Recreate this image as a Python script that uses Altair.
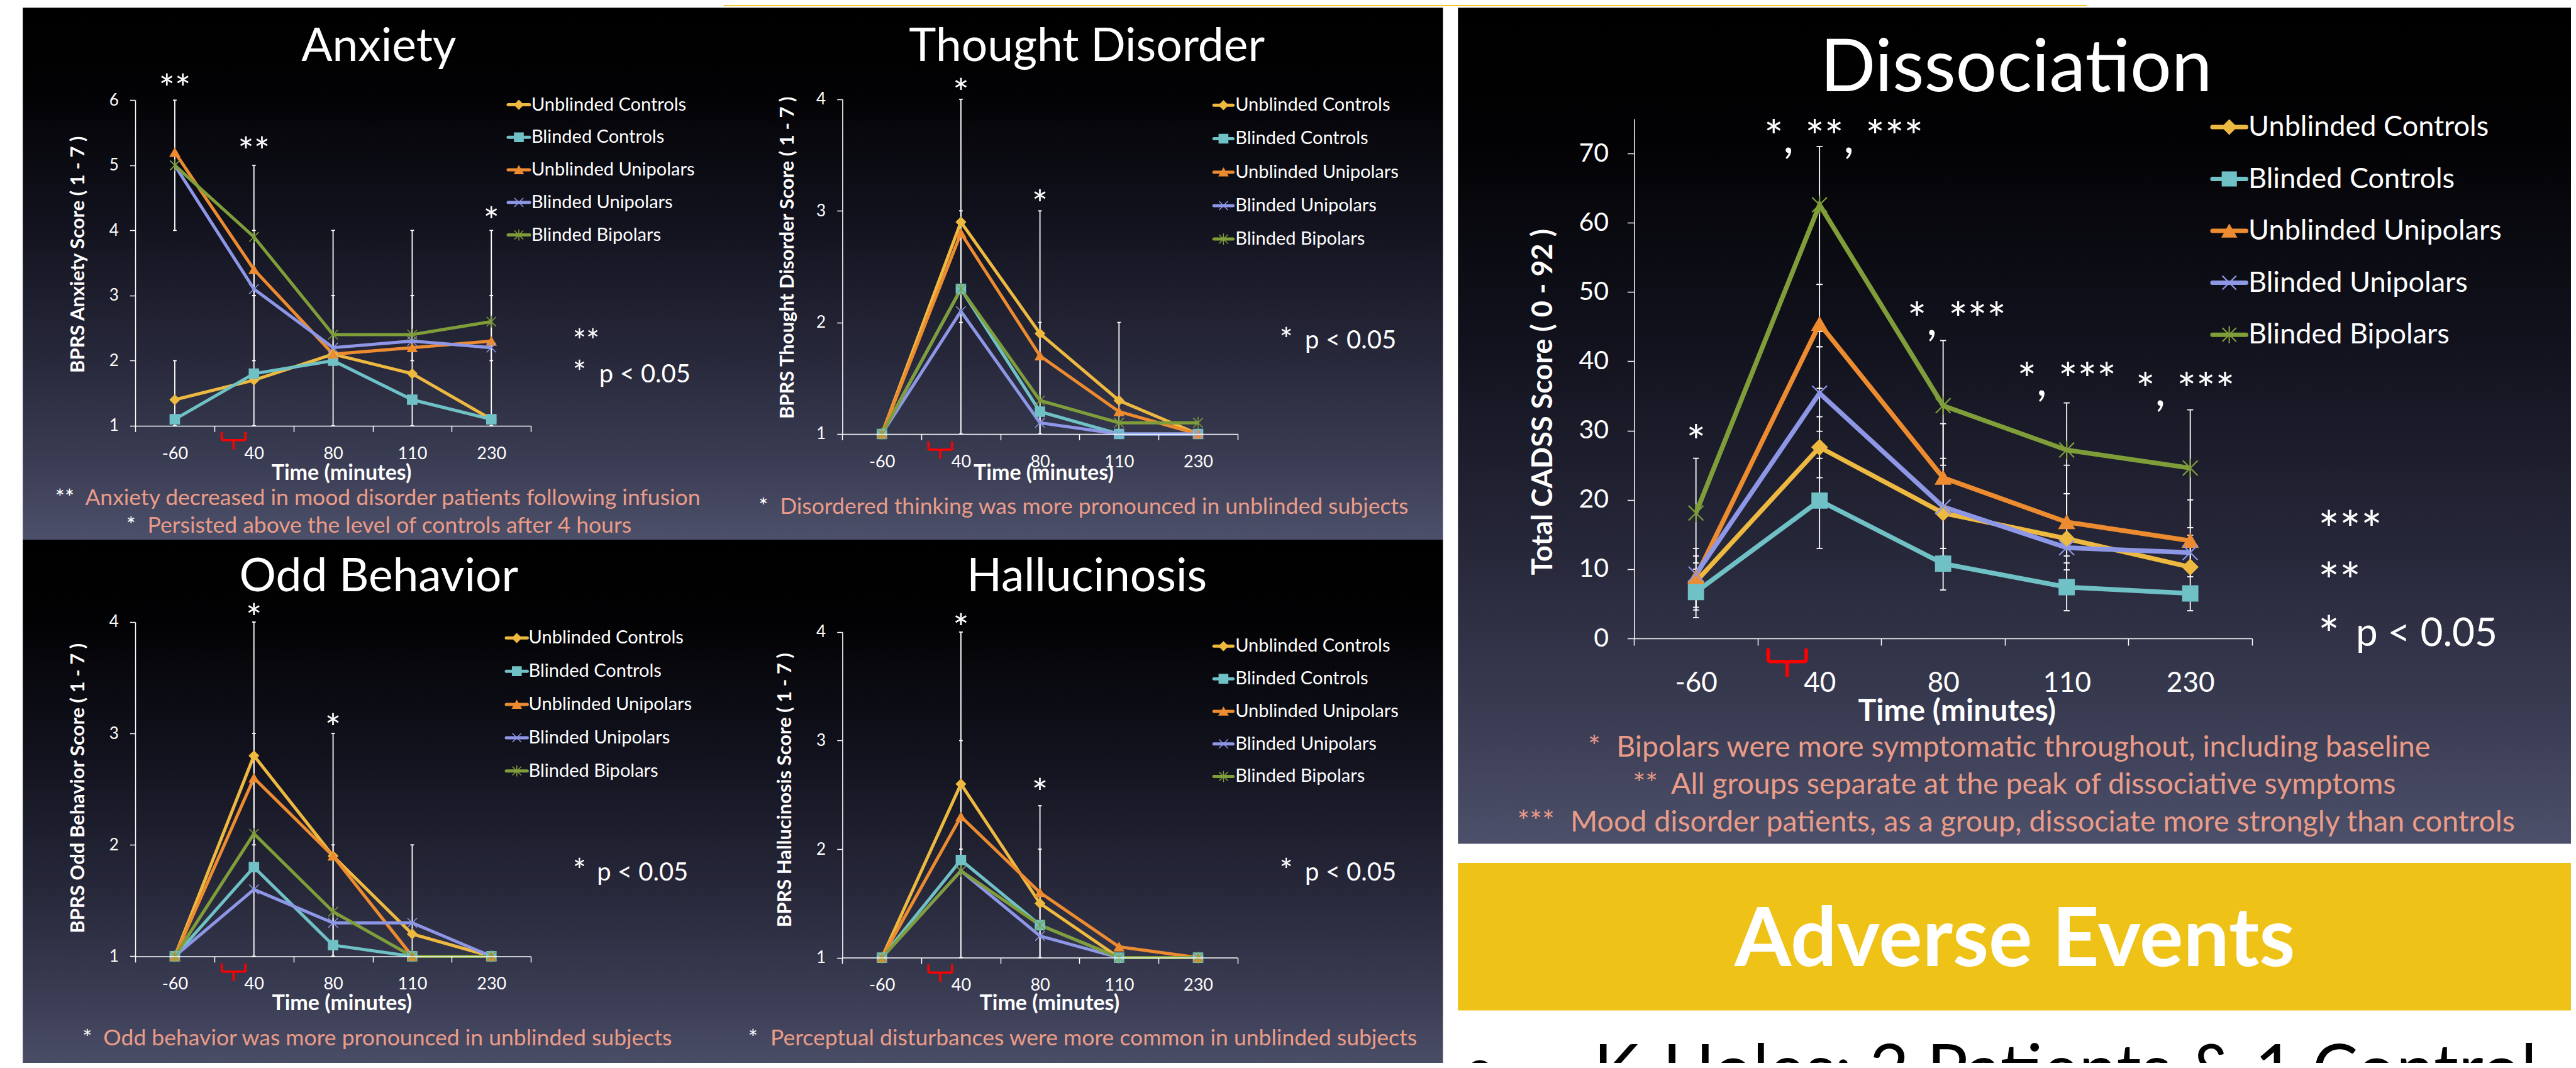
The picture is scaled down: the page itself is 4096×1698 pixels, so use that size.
import altair as alt
import pandas as pd

# ---------------- data ----------------
times = ["-60", "40", "80", "110", "230"]
series = ["Unblinded Controls", "Blinded Controls", "Unblinded Unipolars",
          "Blinded Unipolars", "Blinded Bipolars"]

anxiety = {
    "Unblinded Controls": [1.4, 1.7, 2.1, 1.8, 1.1],
    "Blinded Controls": [1.1, 1.8, 2.0, 1.4, 1.1],
    "Unblinded Unipolars": [5.2, 3.4, 2.1, 2.2, 2.3],
    "Blinded Unipolars": [5.0, 3.1, 2.2, 2.3, 2.2],
    "Blinded Bipolars": [5.0, 3.9, 2.4, 2.4, 2.6],
}
thought = {
    "Unblinded Controls": [1.0, 2.9, 1.9, 1.3, 1.0],
    "Blinded Controls": [1.0, 2.3, 1.2, 1.0, 1.0],
    "Unblinded Unipolars": [1.0, 2.8, 1.7, 1.2, 1.0],
    "Blinded Unipolars": [1.0, 2.1, 1.1, 1.0, 1.0],
    "Blinded Bipolars": [1.0, 2.3, 1.3, 1.1, 1.1],
}
odd = {
    "Unblinded Controls": [1.0, 2.8, 1.9, 1.2, 1.0],
    "Blinded Controls": [1.0, 1.8, 1.1, 1.0, 1.0],
    "Unblinded Unipolars": [1.0, 2.6, 1.9, 1.0, 1.0],
    "Blinded Unipolars": [1.0, 1.6, 1.3, 1.3, 1.0],
    "Blinded Bipolars": [1.0, 2.1, 1.4, 1.0, 1.0],
}
halluc = {
    "Unblinded Controls": [1.0, 2.6, 1.5, 1.0, 1.0],
    "Blinded Controls": [1.0, 1.9, 1.3, 1.0, 1.0],
    "Unblinded Unipolars": [1.0, 2.3, 1.6, 1.1, 1.0],
    "Blinded Unipolars": [1.0, 1.8, 1.2, 1.0, 1.0],
    "Blinded Bipolars": [1.0, 1.8, 1.3, 1.0, 1.0],
}
dissoc = {
    "Unblinded Controls": [8.2, 27.6, 18.1, 14.4, 10.3],
    "Blinded Controls": [6.7, 19.9, 10.8, 7.4, 6.5],
    "Unblinded Unipolars": [8.9, 45.4, 23.2, 16.8, 14.1],
    "Blinded Unipolars": [9.3, 35.4, 19.0, 13.1, 12.4],
    "Blinded Bipolars": [18.1, 62.6, 33.6, 27.2, 24.6],
}

# error bars: (time, low, high)
anxiety_err = [("-60", 4, 6), ("-60", 1, 2), ("40", 3, 5), ("40", 2, 4), ("40", 1, 3),
               ("80", 2, 4), ("80", 1, 3), ("110", 2, 4), ("110", 1, 3),
               ("230", 2, 4), ("230", 1, 3)]
thought_err = [("40", 2, 4), ("40", 1, 3), ("80", 1, 3), ("80", 1, 2), ("110", 1, 2)]
odd_err = [("40", 2, 4), ("40", 1, 3), ("80", 1, 3), ("80", 1, 2), ("110", 1, 2)]
halluc_err = [("40", 2, 4), ("40", 1, 3), ("80", 1, 2.4), ("80", 1, 2)]
dissoc_err = [("-60", 10.9, 26.0), ("-60", 4.5, 13.0), ("-60", 3.0, 11.9), ("-60", 4.1, 10.0),
              ("40", 13.0, 26.0), ("40", 23.2, 32.0), ("40", 29.9, 42.1), ("40", 36.1, 44.3),
              ("40", 42.1, 51.1), ("40", 51.1, 71.0),
              ("80", 25.0, 43.0), ("80", 13.0, 31.0), ("80", 11.9, 26.0), ("80", 7.0, 13.0),
              ("110", 20.9, 34.0), ("110", 11.9, 25.0), ("110", 9.9, 20.9), ("110", 4.0, 10.9),
              ("230", 16.0, 33.0), ("230", 8.9, 20.0), ("230", 4.0, 14.9)]

# significance marks: (time, value at the marks' centre, text)
anxiety_stars = [("-60", 6.30, "**"), ("40", 5.34, "**"), ("230", 4.27, "*")]
thought_stars = [("40", 4.13, "*"), ("80", 3.13, "*")]
odd_stars = [("40", 4.11, "*"), ("80", 3.12, "*")]
halluc_stars = [("40", 4.11, "*"), ("80", 2.59, "*")]
dissoc_stars = [("-60", 29.8, "*"), ("40", 73.8, "*, **, ***"), ("80", 47.5, "*, ***"),
                ("110", 38.8, "*, ***"), ("230", 37.3, "*, ***")]

# ---------------- layout / style ----------------
K = 0.724
W, H = 4080, 1682


def P(v):
    return round(v * K - 8, 2)


def S(v):
    return round(v * K, 2)


FONT = "Lato"
SALMON = "#EA9C88"
YELLOW = "#EFC217"
colors = ["#EDB940", "#6FC1C6", "#EC8B30", "#8D97E6", "#7F9E3A"]
fills = ["#EDB940", "#6FC1C6", "#EC8B30", "transparent", "transparent"]
X_PATH = "M-1,-1L1,1M-1,1L1,-1"
AST_PATH = "M-1,-1L1,1M-1,1L1,-1M0,-1.25L0,1.25"
shapes = ["diamond", "square", "triangle-up", X_PATH, AST_PATH]
BRACE = ("M-0.93,-0.69L-0.93,-0.15Q-0.93,-0.05 -0.8,-0.05L-0.12,-0.05Q0,-0.05 0,0.1L0,0.69"
         "M0,0.1Q0,-0.05 0.12,-0.05L0.8,-0.05Q0.93,-0.05 0.93,-0.15L0.93,-0.69")

color_scale = alt.Scale(domain=series, range=colors)
fill_scale = alt.Scale(domain=series, range=fills)
shape_scale = alt.Scale(domain=series, range=shapes)

ONE = pd.DataFrame({"k": [0]})

grad = alt.LinearGradient(
    gradient="linear",
    stops=[alt.GradientStop(offset=0, color="#000000"),
           alt.GradientStop(offset=0.15, color="#020204"),
           alt.GradientStop(offset=0.4, color="#12121e"),
           alt.GradientStop(offset=0.65, color="#262739"),
           alt.GradientStop(offset=0.85, color="#3a3c53"),
           alt.GradientStop(offset=1, color="#4d506a")],
    x1=0, x2=0, y1=0, y2=1)


def R(x0, y0, x1, y1, fill):
    return alt.Chart(ONE).mark_rect(fill=fill, strokeWidth=0).encode(
        x=alt.value(P(x0)), x2=alt.value(P(x1)), y=alt.value(P(y0)), y2=alt.value(P(y1)))


def T(s, x, y, fs, color="white", weight="normal", align="center", baseline="middle",
      angle=0, dy=0):
    return alt.Chart(ONE).mark_text(
        text=s, font=FONT, fontSize=fs, color=color, fontWeight=weight, align=align,
        baseline=baseline, angle=angle, dy=dy).encode(x=alt.value(P(x)), y=alt.value(P(y)))


def STAR(s, x, yc, fs, align="left"):
    # asterisks: place so that their visual centre sits at yc
    return T(s, x, yc, fs, align=align, baseline="alphabetic", dy=round(0.57 * fs, 1))


def brace(cx, cy, width_ref, sw):
    w = S(width_ref)
    return alt.Chart(ONE).mark_point(shape=BRACE, filled=False, color="#FF0000", opacity=1,
                                     strokeWidth=sw, size=round(w * w)).encode(
        x=alt.value(P(cx)), y=alt.value(P(cy)))


def long_df(d):
    rows = []
    for s in series:
        for i, t in enumerate(times):
            rows.append({"series": s, "time": t, "ti": i, "value": d[s][i]})
    return pd.DataFrame(rows)


def panel(d, errs, stars, x0, x1, ylo, yhi, domain, ticks, o, star_dx=None):
    xs = alt.Scale(type="band", domain=times, range=[P(x0), P(x1)], paddingInner=0,
                   paddingOuter=0)
    ys = alt.Scale(domain=domain, range=[P(ylo), P(yhi)], nice=False, zero=False)
    xaxis = alt.Axis(orient="bottom", offset=round(P(ylo) - H, 2), title=None, labelFont=FONT,
                     labelFontSize=o["xl"], labelColor="white", labelAngle=0,
                     labelBaseline="middle", labelPadding=o["xlp"], tickSize=o["xts"],
                     tickBand="extent", tickColor="white", domainColor="white",
                     tickWidth=1.5, domainWidth=1.5, grid=False, zindex=1)
    yaxis = alt.Axis(orient="left", offset=-P(x0), title=None, values=ticks, labelFont=FONT,
                     labelFontSize=o["yl"], labelColor="white", labelPadding=o["ylp"],
                     tickSize=o["yts"], tickColor="white", domainColor="white",
                     tickWidth=1.5, domainWidth=1.5, grid=False, zindex=1)
    df = long_df(d)
    edf = pd.DataFrame(errs, columns=["time", "lo", "hi"])
    cdf = edf.melt(id_vars=["time"], value_vars=["lo", "hi"], value_name="v")
    # every layer carries the same axis definition so that the merged axis stays enabled
    xn = alt.X("time:N", scale=xs, axis=xaxis)

    def yq(f):
        return alt.Y(f, scale=ys, axis=yaxis)

    rules = alt.Chart(edf).mark_rule(color="white", strokeWidth=o["ew"]).encode(
        x=xn, y=yq("lo:Q"), y2="hi:Q")
    caps = alt.Chart(cdf).mark_point(shape="M-1,0L1,0", filled=False, color="white",
                                     opacity=1, strokeWidth=o["ew"], size=o["cap"]).encode(
        x=xn, y=yq("v:Q"))
    lines = alt.Chart(df).mark_line(strokeWidth=o["lw"]).encode(
        x=xn, y=yq("value:Q"),
        color=alt.Color("series:N", scale=color_scale, legend=None),
        order="ti:Q")
    pts = alt.Chart(df).mark_point(filled=False, opacity=1, strokeWidth=o["mw"],
                                   size=o["ms"]).encode(
        x=xn, y=yq("value:Q"),
        shape=alt.Shape("series:N", scale=shape_scale, legend=None),
        fill=alt.Fill("series:N", scale=fill_scale, legend=None),
        stroke=alt.Stroke("series:N", scale=color_scale, legend=None))
    parts = [rules, caps, lines, pts]
    for i, (t, v, s) in enumerate(stars):
        dx = S(star_dx[i]) if star_dx else 0
        sdf = pd.DataFrame({"time": [t], "value": [v]})
        parts.append(alt.Chart(sdf).mark_text(
            text=s, font=FONT, fontSize=o["sf"], color="white", baseline="alphabetic",
            dy=round(0.57 * o["sf"], 1), dx=dx).encode(x=xn, y=yq("value:Q")))
    return alt.layer(*parts)


def legend(xl0, xl1, xt, y0, y1, fs, lw, ms, mw):
    ldf = pd.DataFrame({"series": series})
    ys = alt.Scale(type="point", domain=series, range=[P(y0), P(y1)], padding=0)
    y = alt.Y("series:N", scale=ys, axis=None)
    rule = alt.Chart(ldf).mark_rule(strokeWidth=lw, strokeCap="round").encode(
        x=alt.value(P(xl0)), x2=alt.value(P(xl1)), y=y,
        color=alt.Color("series:N", scale=color_scale, legend=None))
    pts = alt.Chart(ldf).mark_point(filled=False, opacity=1, strokeWidth=mw, size=ms).encode(
        x=alt.value(P((xl0 + xl1) / 2)), y=y,
        shape=alt.Shape("series:N", scale=shape_scale, legend=None),
        fill=alt.Fill("series:N", scale=fill_scale, legend=None),
        stroke=alt.Stroke("series:N", scale=color_scale, legend=None))
    txt = alt.Chart(ldf).mark_text(align="left", baseline="middle", fontSize=fs, font=FONT,
                                   color="white").encode(
        x=alt.value(P(xt)), y=y, text="series:N")
    return alt.layer(rule, pts, txt)


small = dict(xl=27, xlp=35, xts=9.4, yl=26, ylp=18, yts=8.7, ew=1.8, cap=34, lw=5,
             mw=1.5, ms=230, sf=60)
big = dict(xl=44, xlp=60, xts=11, yl=41, ylp=30, yts=11, ew=1.8, cap=90, lw=7.5,
           mw=2.2, ms=560, sf=72)

layers = [
    R(1589, 0, 4583, 13, YELLOW),
    R(50, 17, 3169, 1185, grad),
    R(50, 1185, 3169, 2360, grad),
    R(3202, 17, 5670, 1853, grad),
    R(3202, 1895, 5670, 2219, YELLOW),
    # panel titles
    T("Anxiety", 832, 134, S(101), baseline="alphabetic"),
    T("Thought Disorder", 2387, 134, S(101), baseline="alphabetic"),
    T("Odd Behavior", 832, 1299, S(101), baseline="alphabetic"),
    T("Hallucinosis", 2387, 1299, S(101), baseline="alphabetic"),
    T("Dissociation", 4428, 200, 116, baseline="alphabetic"),
    # panels
    panel(anxiety, anxiety_err, anxiety_stars, 297, 1166, 935, 220, [1, 6],
          [1, 2, 3, 4, 5, 6], small),
    panel(thought, thought_err, thought_stars, 1850, 2718, 953, 218, [1, 4],
          [1, 2, 3, 4], small),
    panel(odd, odd_err, odd_stars, 297, 1166, 2100, 1366, [1, 4], [1, 2, 3, 4], small),
    panel(halluc, halluc_err, halluc_stars, 1850, 2718, 2103, 1388, [1, 4],
          [1, 2, 3, 4], small),
    panel(dissoc, dissoc_err, dissoc_stars, 3589, 4946, 1402, 261, [0, 75],
          [0, 10, 20, 30, 40, 50, 60, 70], big, star_dx=[0, 53, 30, 0, -11]),
    # legends
    legend(1116, 1163, 1167, 230, 516, 29, 5, 200, 1.5),
    legend(2666, 2708, 2713, 231, 525, 29, 5, 200, 1.5),
    legend(1112, 1158, 1161, 1401, 1693, 29, 5, 200, 1.5),
    legend(2666, 2708, 2713, 1419, 1705, 29, 5, 200, 1.5),
    legend(4859, 4933, 4938, 279, 735, 45, 7, 480, 2.2),
    # axis titles
    T("Time (minutes)", 750, 1040, 34, weight="bold"),
    T("Time (minutes)", 2292, 1040, 34, weight="bold"),
    T("Time (minutes)", 751, 2205, 34, weight="bold"),
    T("Time (minutes)", 2305, 2205, 34, weight="bold"),
    T("Time (minutes)", 4298, 1564, 48, weight="bold"),
    T("BPRS Anxiety Score ( 1 - 7 )", 173, 559, 31, weight="bold", angle=270),
    T("BPRS Thought Disorder Score ( 1 - 7 )", 1731, 566, 31, weight="bold", angle=270),
    T("BPRS Odd Behavior Score ( 1 - 7 )", 173, 1731, 31, weight="bold", angle=270),
    T("BPRS Hallucinosis Score ( 1 - 7 )", 1725, 1735, 31, weight="bold", angle=270),
    T("Total CADSS Score ( 0 - 92 )", 3390, 883, 45, weight="bold", angle=270),
    # infusion braces
    brace(513, 968, 56, 3.5),
    brace(2065, 989, 56, 3.5),
    brace(513, 2135, 56, 3.5),
    brace(2065, 2137, 56, 3.5),
    brace(3925, 1455, 90, 5.5),
    # p-value keys
    STAR("**", 1258, 734, 50),
    STAR("*", 1258, 803, 50),
    T("p < 0.05", 1316, 840, 40, align="left", baseline="alphabetic"),
    STAR("*", 2810, 731, 50),
    T("p < 0.05", 2866, 765, 40, align="left", baseline="alphabetic"),
    STAR("*", 1258, 1897, 50),
    T("p < 0.05", 1311, 1934, 40, align="left", baseline="alphabetic"),
    STAR("*", 2810, 1897, 50),
    T("p < 0.05", 2866, 1934, 40, align="left", baseline="alphabetic"),
    STAR("***", 5091, 1139, 80),
    STAR("**", 5091, 1252, 80),
    STAR("*", 5091, 1370, 80),
    T("p < 0.05", 5174, 1418, 62, align="left", baseline="alphabetic"),
    # notes
    T("**", 163, 1094, 35.5, align="right"),
    T("Anxiety decreased in mood disorder patients following infusion", 187, 1094, 35.5,
      color=SALMON, align="left"),
    T("*", 298, 1155, 35.5, align="right"),
    T("Persisted above the level of controls after 4 hours", 324, 1155, 35.5,
      color=SALMON, align="left"),
    T("*", 1687, 1113, 35.5, align="right"),
    T("Disordered thinking was more pronounced in unblinded subjects", 1713, 1113, 35.5,
      color=SALMON, align="left"),
    T("*", 202, 2280, 35.5, align="right"),
    T("Odd behavior was more pronounced in unblinded subjects", 227, 2280, 35.5,
      color=SALMON, align="left"),
    T("*", 1664, 2280, 35.5, align="right"),
    T("Perceptual disturbances were more common in unblinded subjects", 1692, 2280, 35.5,
      color=SALMON, align="left"),
    T("*", 3515, 1642, 46.5, color=SALMON, align="right"),
    T("Bipolars were more symptomatic throughout, including baseline", 3550, 1642, 46.5,
      color=SALMON, align="left"),
    T("**", 3641, 1724, 46.5, color=SALMON, align="right"),
    T("All groups separate at the peak of dissociative symptoms", 3670, 1724, 46.5,
      color=SALMON, align="left"),
    T("***", 3414, 1806, 46.5, color=SALMON, align="right"),
    T("Mood disorder patients, as a group, dissociate more strongly than controls", 3449,
      1806, 46.5, color=SALMON, align="left"),
    # adverse events
    T("Adverse Events", 4425, 2121, 130, weight="bold", baseline="alphabetic"),
    T("\u2022", 3250, 2400, 109, color="black", baseline="alphabetic"),
    T("K-Holes: 2 Patients & 1 Control", 3500, 2400, 109, color="black", align="left",
      baseline="alphabetic"),
]

chart = alt.layer(*layers).resolve_scale(x="independent", y="independent").properties(
    width=W, height=H, autosize=alt.AutoSizeParams(type="none"), padding=0,
    background="white").configure_view(strokeWidth=0)

chart.save("out.html", embed_options={"renderer": "svg", "actions": False})
